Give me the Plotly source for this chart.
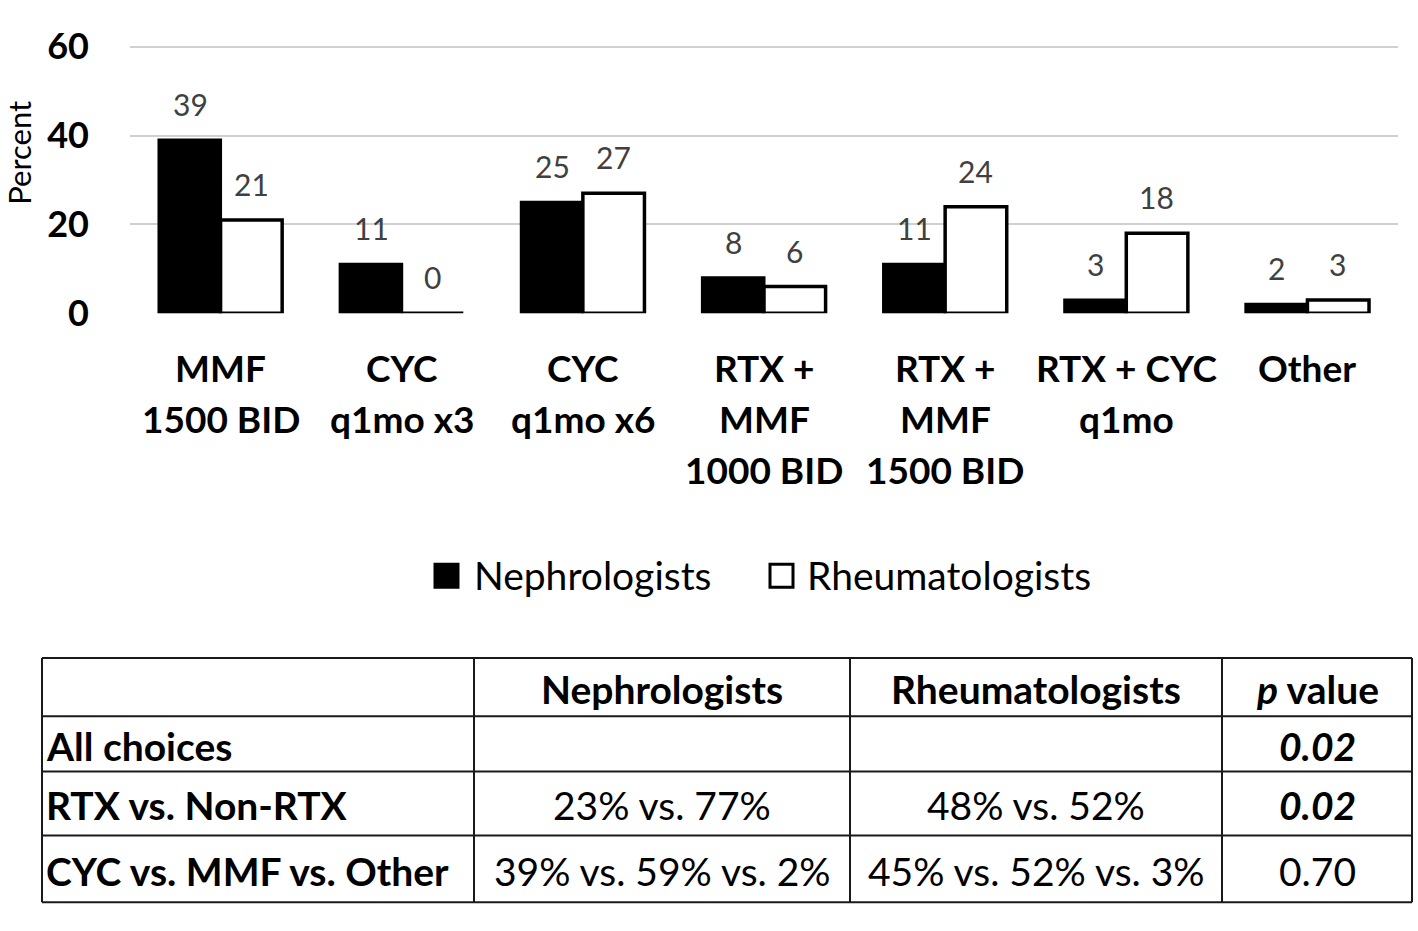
import plotly.graph_objects as go

W, H = 1418, 931
FONT = "Lato"

categories = ["MMF 1500 BID", "CYC q1mo x3", "CYC q1mo x6", "RTX + MMF 1000 BID",
              "RTX + MMF 1500 BID", "RTX + CYC q1mo", "Other"]
category_lines = [["MMF", "1500 BID"], ["CYC", "q1mo x3"], ["CYC", "q1mo x6"],
                  ["RTX +", "MMF", "1000 BID"], ["RTX +", "MMF", "1500 BID"],
                  ["RTX + CYC", "q1mo"], ["Other"]]
nephrologists = [39, 11, 25, 8, 11, 3, 2]
rheumatologists = [21, 0, 27, 6, 24, 18, 3]
series_names = ["Nephrologists", "Rheumatologists"]
y_ticks = [0, 20, 40, 60]

table_header = ["", "<b>Nephrologists</b>", "<b>Rheumatologists</b>", "<b><i>p</i> value</b>"]
row_labels = ["All choices", "RTX vs. Non-RTX", "CYC vs. MMF vs. Other"]
neph_col = ["", "23% vs. 77%", "39% vs. 59% vs. 2%"]
rheu_col = ["", "48% vs. 52%", "45% vs. 52% vs. 3%"]
p_values = ["0.02", "0.02", "0.70"]
p_significant = [True, True, False]


def px(x):
    return x / W


def py(y):
    return 1 - y / H


Y0, Y60 = 306, 27  # pixel rows of 0 and 60 on the value axis
PPU = (Y0 - Y60) / 60.0

fig = go.Figure()
fig.add_trace(go.Bar(x=categories, y=nephrologists, name=series_names[0],
                     marker=dict(color="black", line=dict(color="black", width=3)),
                     showlegend=False))
fig.add_trace(go.Bar(x=categories, y=rheumatologists, name=series_names[1],
                     marker=dict(color="white", line=dict(color="black", width=3.5)),
                     showlegend=False))

annotations = []
for vals, sh in ((nephrologists, -30.5), (rheumatologists, 30.5)):
    for c, v in zip(categories, vals):
        annotations.append(dict(x=c, y=v, xref="x", yref="y", text=str(v), showarrow=False,
                                xshift=sh, yshift=36, yanchor="middle",
                                font=dict(family=FONT, size=30, color="#404040")))
for c, lines in zip(categories, category_lines):
    for i, t in enumerate(lines):
        annotations.append(dict(x=c, y=py(363 + 53.5 * i), xref="x", yref="paper",
                                text="<b>" + t + "</b>", showarrow=False, yanchor="middle",
                                font=dict(family=FONT, size=37, color="black")))
annotations.append(dict(x=px(19), y=py(138), xref="paper", yref="paper", text="Percent",
                        textangle=-90, showarrow=False, xanchor="center", yanchor="middle",
                        font=dict(family=FONT, size=31, color="black")))
shapes = []
leg = [(435, 472, series_names[0], "black"), (770, 805, series_names[1], "white")]
for x0, tx, name, col in leg:
    shapes.append(dict(type="rect", xref="paper", yref="paper", x0=px(x0), x1=px(x0 + 23),
                       y0=py(569), y1=py(593), fillcolor=col, line=dict(color="black", width=3)))
    annotations.append(dict(x=px(tx), y=py(580), xref="paper", yref="paper", text=name,
                            showarrow=False, xanchor="left", yanchor="middle",
                            font=dict(family=FONT, size=39, color="black")))

col_edges = [42, 474, 850, 1222, 1412]
row_edges = [667, 728, 786, 853, 923]
for x in col_edges:
    shapes.append(dict(type="line", xref="paper", yref="paper", x0=px(x), x1=px(x),
                       y0=py(row_edges[0]), y1=py(row_edges[-1]),
                       line=dict(color="#1a1a1a", width=2)))
for y in row_edges:
    shapes.append(dict(type="line", xref="paper", yref="paper", x0=px(col_edges[0]), x1=px(col_edges[-1]),
                       y0=py(y), y1=py(y), line=dict(color="#1a1a1a", width=2)))

columns = [
    [""] + ["<b>" + r + "</b>" for r in row_labels],
    [table_header[1]] + neph_col,
    [table_header[2]] + rheu_col,
    [table_header[3]] + ["<b><i>" + p + "</i></b>" if s else p for p, s in zip(p_values, p_significant)],
]
for ci, col in enumerate(columns):
    for ri, txt in enumerate(col):
        if not txt:
            continue
        yc = (row_edges[ri] + row_edges[ri + 1]) / 2 + 2
        if ci == 0:
            xa, xpos = "left", col_edges[0] + 2
        else:
            xa, xpos = "center", (col_edges[ci] + col_edges[ci + 1]) / 2
        annotations.append(dict(x=px(xpos), y=py(yc), xref="paper", yref="paper", text=txt,
                                showarrow=False, xanchor=xa, yanchor="middle",
                                font=dict(family=FONT, size=39, color="black")))

fig.update_layout(
    width=W, height=H, margin=dict(l=0, r=0, t=0, b=0),
    plot_bgcolor="white", paper_bgcolor="white",
    barmode="group", bargap=0.32, bargroupgap=0,
    annotations=annotations, shapes=shapes,
    xaxis=dict(domain=[px(130), px(1398)], showticklabels=False, showgrid=False,
               zeroline=False, showline=False, ticks=""),
    yaxis=dict(domain=[py(Y0), py(Y0 - 60.6 * PPU)], range=[0, 60.6], tickvals=y_ticks,
               showgrid=True, gridcolor="#d0d0d0", gridwidth=2, zeroline=False,
               showline=False, ticks="", ticklabelstandoff=40,
               tickfont=dict(family=FONT, size=36, color="black", weight="bold")),
    showlegend=False,
)

fig.write_html(
    "out.html",
    config={"displayModeBar": False},
    post_script="document.body.style.margin='0';",
)
